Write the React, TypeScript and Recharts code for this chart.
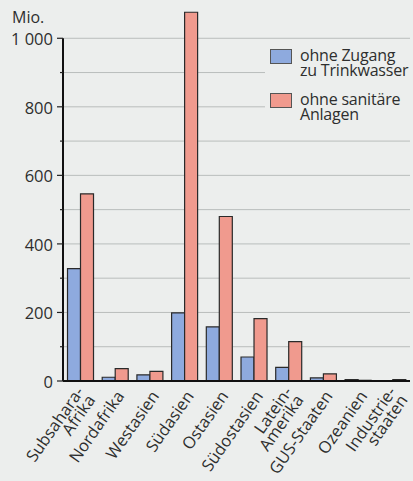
import React from 'react';
import { BarChart, Bar, XAxis, YAxis, CartesianGrid, ReferenceLine } from 'recharts';

const categories = [
  'Subsahara-\nAfrika',
  'Nordafrika',
  'Westasien',
  'Südasien',
  'Ostasien',
  'Südostasien',
  'Latein-\nAmerika',
  'GUS-Staaten',
  'Ozeanien',
  'Industrie-\nstaaten',
];
const ohneTrinkwasser = [328, 11, 18, 199, 158, 70, 40, 9, 4, 1];
const ohneSanitaer = [546, 36, 28, 1076, 480, 182, 115, 21, 2, 4];
const yTicks = [0, 100, 200, 300, 400, 500, 600, 700, 800, 900, 1000];
const yTickLabels: Record<number, string> = {
  0: '0',
  200: '200',
  400: '400',
  600: '600',
  800: '800',
  1000: '1 000',
};
const seriesNames = ['ohne Zugang\nzu Trinkwasser', 'ohne sanitäre\nAnlagen'];
const unitLabel = 'Mio.';

const BLUE = '#8eaade';
const RED = '#f09a8e';
const BG = '#eceeed';
const TEXT = '#2e2e2e';
const FONT = '"Open Sans", "Noto Sans", sans-serif';

const data = categories.map((name, i) => ({
  name,
  wasser: ohneTrinkwasser[i],
  sanitaer: ohneSanitaer[i],
}));

const YTick = (props: any) => {
  const { x, y, payload } = props;
  const v = payload.value as number;
  const label = yTickLabels[v];
  const major = label !== undefined;
  return (
    <g>
      <line x1={x - (major ? 6 : 3)} x2={x} y1={y} y2={y} stroke="#222" strokeWidth={1.2} />
      {major && (
        <text x={x - 10} y={y} dy="0.42em" textAnchor="end" fontSize={16.5} fill={TEXT} fontFamily={FONT}>
          {label}
        </text>
      )}
    </g>
  );
};

const LINE_H = 14;

const XTick = (props: any) => {
  const { x, y, payload } = props;
  const lines = String(payload.value).split('\n');
  const first = -((lines.length - 1) * LINE_H) / 2;
  return (
    <g transform={`translate(${x + 10},${y + 15}) rotate(-55)`}>
      {lines.map((l, i) => (
        <text key={i} x={0} y={first + i * LINE_H} textAnchor="end" fill={TEXT} fontSize={16.5} fontFamily={FONT}>
          {l}
        </text>
      ))}
    </g>
  );
};

const LegendBox = () => {
  const colors = [BLUE, RED];
  return (
    <div
      style={{
        position: 'absolute',
        left: 265,
        top: 44,
        background: BG,
        width: 148,
        paddingTop: 4,
        paddingLeft: 5,
        paddingBottom: 8,
        fontFamily: FONT,
        boxSizing: 'border-box',
      }}
    >
      {seriesNames.map((n, i) => (
        <div key={i} style={{ display: 'flex', alignItems: 'flex-start', marginBottom: i === 0 ? 14 : 0 }}>
          <div
            style={{
              width: 22,
              height: 15,
              background: colors[i],
              border: '1px solid #555',
              boxSizing: 'border-box',
              marginTop: 1,
              marginRight: 8,
              flex: 'none',
            }}
          />
          <div style={{ fontSize: 16, lineHeight: '15px', color: TEXT, whiteSpace: 'pre', letterSpacing: -0.2 }}>{n}</div>
        </div>
      ))}
    </div>
  );
};

export default function App() {
  return (
    <div style={{ position: 'absolute', left: 0, top: 0, width: 413, height: 481, background: BG }}>
      <BarChart
        width={413}
        height={481}
        data={data}
        margin={{ top: 4, right: 3, left: 0, bottom: 0 }}
        barCategoryGap="13%"
        barGap={0}
      >
        <CartesianGrid vertical={false} horizontalValues={yTicks} stroke="#b9bdbc" strokeWidth={1} />
        <XAxis
          dataKey="name"
          interval={0}
          tickLine={false}
          tickSize={0}
          tickMargin={0}
          height={100}
          axisLine={{ stroke: '#111', strokeWidth: 2 }}
          tick={<XTick />}
        />
        <YAxis
          width={63}
          domain={[0, 1100]}
          ticks={yTicks}
          interval={0}
          tickLine={false}
          tickSize={0}
          tickMargin={0}
          axisLine={false}
          tick={<YTick />}
        />
        <ReferenceLine
          segment={[
            { x: categories[0], y: 0 },
            { x: categories[0], y: 1000 },
          ]}
          position="start"
          stroke="#111"
          strokeWidth={2}
        />
        <Bar dataKey="wasser" fill={BLUE} stroke="#2a2a2a" strokeWidth={1.2} isAnimationActive={false} />
        <Bar dataKey="sanitaer" fill={RED} stroke="#2a2a2a" strokeWidth={1.2} isAnimationActive={false} />
      </BarChart>
      <div
        style={{
          position: 'absolute',
          left: 12,
          top: 9,
          fontSize: 16,
          color: TEXT,
          fontFamily: FONT,
          lineHeight: '16px',
        }}
      >
        {unitLabel}
      </div>
      <LegendBox />
    </div>
  );
}
